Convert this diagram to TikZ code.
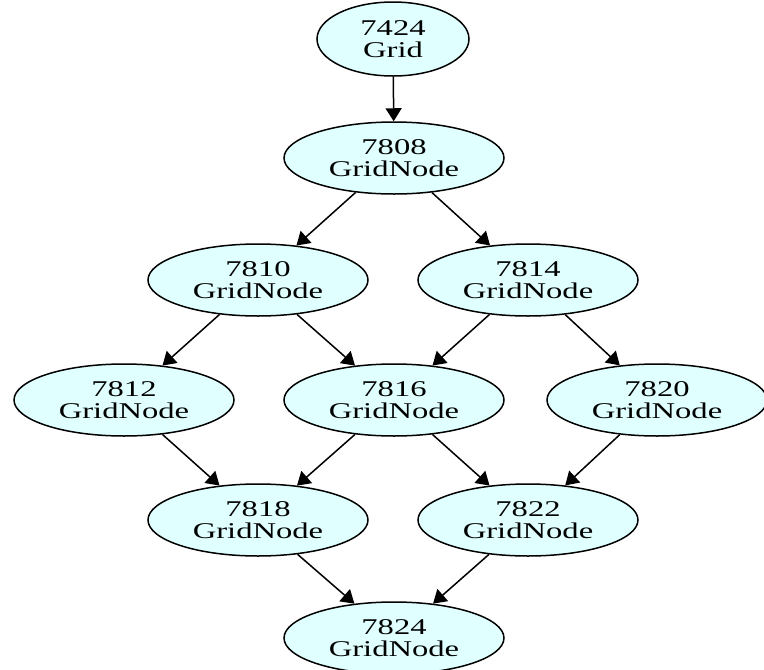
\documentclass[tikz,border=0pt]{standalone}
\usepackage{fontspec}
\setmainfont{Liberation Serif}
\usetikzlibrary{arrows.meta,shapes.geometric}
\definecolor{nodefill}{HTML}{E0FFFF}
% two-line label, widened horizontally and set a little below the centre
\newcommand{\gridlabel}[2]{\raisebox{-3pt}[\height][\depth]{\scalebox{1.45}[1]{\fontsize{22.5}{21}\selectfont\begin{tabular}{@{}c@{}}#1\\#2\end{tabular}}}}
\tikzset{
  gn/.style={ellipse, draw=black, line width=1.5pt, fill=nodefill, inner sep=0pt,
             minimum width=220pt, minimum height=72pt},
  rootnode/.style={gn, minimum width=152pt, minimum height=74pt},
  edge/.style={draw=black, line width=1.5pt, -{Triangle[length=13pt,width=16pt]}},
}
\begin{document}
\begin{tikzpicture}[x=1pt,y=-1pt]
\useasboundingbox (0,0) rectangle (764,670);
\node[rootnode] (n7424) at (393,39)  {\gridlabel{7424}{Grid}};
\node[gn] (n7808) at (394,158) {\gridlabel{7808}{GridNode}};
\node[gn] (n7810) at (258,280) {\gridlabel{7810}{GridNode}};
\node[gn] (n7814) at (528,280) {\gridlabel{7814}{GridNode}};
\node[gn] (n7812) at (124,400) {\gridlabel{7812}{GridNode}};
\node[gn] (n7816) at (394,400) {\gridlabel{7816}{GridNode}};
\node[gn] (n7820) at (657,400) {\gridlabel{7820}{GridNode}};
\node[gn] (n7818) at (258,520) {\gridlabel{7818}{GridNode}};
\node[gn] (n7822) at (528,520) {\gridlabel{7822}{GridNode}};
\node[gn] (n7824) at (394,638) {\gridlabel{7824}{GridNode}};
\draw[edge] (n7424) -- (n7808);
\draw[edge] (n7808) -- (n7810);
\draw[edge] (n7808) -- (n7814);
\draw[edge] (n7810) -- (n7812);
\draw[edge] (n7810) -- (n7816);
\draw[edge] (n7814) -- (n7816);
\draw[edge] (n7814) -- (n7820);
\draw[edge] (n7812) -- (n7818);
\draw[edge] (n7816) -- (n7818);
\draw[edge] (n7816) -- (n7822);
\draw[edge] (n7820) -- (n7822);
\draw[edge] (n7818) -- (n7824);
\draw[edge] (n7822) -- (n7824);
\end{tikzpicture}
\end{document}
